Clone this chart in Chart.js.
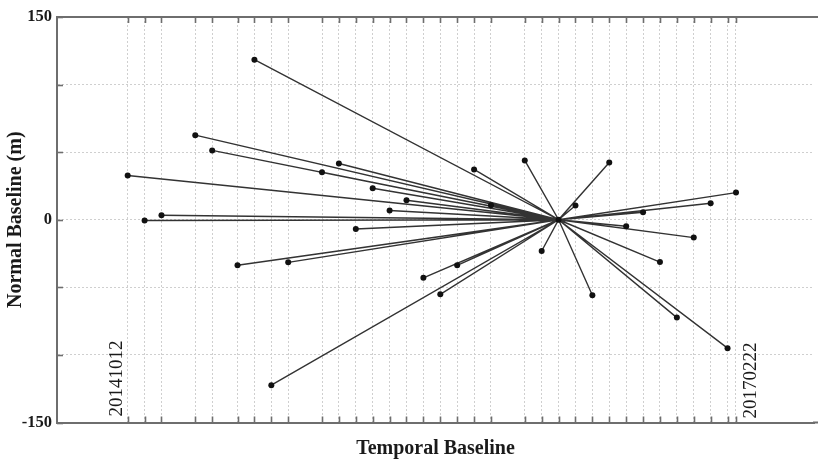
<!DOCTYPE html>
<html>
<head>
<meta charset="utf-8">
<script src="https://cdn.jsdelivr.net/npm/chart.js@4/dist/chart.umd.min.js"></script>
<style>
html,body{margin:0;padding:0;background:#fff;}
#wrap{width:818px;height:460px;}
</style>
</head>
<body>
<div id="wrap"><canvas id="c" width="818" height="460"></canvas></div>
<script>
// Acquisition dates as days since 20141012 (temporal baseline axis)
const acquisitionDays = [0,24,48,96,120,156,180,204,228,276,300,324,348,372,396,420,444,468,492,516,564,588,612,636,660,684,708,732,756,780,804,828,852,864];
// Normal baseline (m) of each acquisition relative to the master
const normalBaselines = [32.7,-0.6,3.3,62.6,51.3,-33.7,118.4,-122.4,-31.5,35.2,41.6,-6.8,23.3,6.8,14.4,-43,-55.2,-33.7,37.2,10.7,43.9,-23.1,0,10.5,-55.9,42.4,-4.8,5.6,-31.3,-72.4,-13.2,12.2,-95,20.1];
const masterIndex = 22;
const firstDateLabel = "20141012";
const lastDateLabel = "20170222";
const yTickLabels = [150, 0, -150];

const master = {x: acquisitionDays[masterIndex], y: normalBaselines[masterIndex]};
const linkData = [];
const pointData = [];
acquisitionDays.forEach((d, i) => {
  pointData.push({x: d, y: normalBaselines[i]});
  if (i !== masterIndex) {
    linkData.push({x: master.x, y: master.y});
    linkData.push({x: d, y: normalBaselines[i]});
  }
});

const SERIF = '"Liberation Serif", "Times New Roman", serif';
const FRAME = '#6e6e6e';
const GRID = '#cfcfcf';

const framePlugin = {
  id: 'framePlugin',
  afterDraw(chart) {
    const ctx = chart.ctx;
    const a = chart.chartArea;
    const xs = chart.scales.x, ys = chart.scales.y;
    ctx.save();
    ctx.strokeStyle = FRAME;
    ctx.lineWidth = 2;
    ctx.beginPath();
    ctx.moveTo(a.left - 1, a.top);
    ctx.lineTo(chart.width, a.top);
    ctx.moveTo(a.right - 1, a.bottom);
    ctx.lineTo(chart.width, a.bottom);
    ctx.stroke();
    ctx.lineWidth = 1.6;
    acquisitionDays.forEach(d => {
      const px = Math.round(xs.getPixelForValue(d)) + 0.5;
      ctx.beginPath();
      ctx.moveTo(px, a.top); ctx.lineTo(px, a.top + 6);
      ctx.moveTo(px, a.bottom); ctx.lineTo(px, a.bottom - 6);
      ctx.stroke();
    });
    ys.ticks.forEach(t => {
      const py = Math.round(ys.getPixelForValue(t.value)) + 0.5;
      ctx.beginPath();
      ctx.moveTo(a.left, py); ctx.lineTo(a.left + 6, py);
      ctx.stroke();
    });
    ctx.fillStyle = '#1a1a1a';
    ctx.font = '19px ' + SERIF;
    ctx.textBaseline = 'middle';
    ctx.textAlign = 'left';
    const x0 = xs.getPixelForValue(acquisitionDays[0]) - 11;
    ctx.save();
    ctx.translate(x0, a.bottom - 6);
    ctx.rotate(-Math.PI / 2);
    ctx.fillText(firstDateLabel, 0, 0);
    ctx.restore();
    const x1 = xs.getPixelForValue(acquisitionDays[acquisitionDays.length - 1]) + 15;
    ctx.save();
    ctx.translate(x1, a.bottom - 4);
    ctx.rotate(-Math.PI / 2);
    ctx.fillText(lastDateLabel, 0, 0);
    ctx.restore();
    ctx.restore();
  }
};

new Chart(document.getElementById('c'), {
  type: 'scatter',
  data: {
    datasets: [
      {
        data: linkData,
        showLine: true,
        borderColor: '#333',
        borderWidth: 1.4,
        pointRadius: 0,
        pointHoverRadius: 0,
        order: 2
      },
      {
        data: pointData,
        showLine: false,
        pointRadius: 3,
        pointBackgroundColor: '#111',
        pointBorderWidth: 0,
        order: 1
      }
    ]
  },
  options: {
    responsive: false,
    animation: false,
    events: [],
    layout: {padding: {top: 17, right: 0, left: 0, bottom: 0}},
    plugins: {legend: {display: false}, tooltip: {enabled: false}},
    scales: {
      x: {
        type: 'linear',
        min: -100.4,
        max: 974.8,
        afterBuildTicks(scale) {
          scale.ticks = acquisitionDays.map(v => ({value: v}));
        },
        afterFit(scale) { scale.height = 37.5; },
        ticks: {display: false},
        grid: {color: GRID, lineWidth: 1, drawTicks: false},
        border: {display: true, color: FRAME, width: 2, dash: [2, 2]},
        title: {
          display: true,
          text: 'Temporal Baseline',
          color: '#1a1a1a',
          font: {family: SERIF, size: 20, weight: 'bold', lineHeight: 1.1},
          padding: 0
        }
      },
      y: {
        type: 'linear',
        min: -150,
        max: 150,
        ticks: {
          stepSize: 50,
          padding: 5,
          color: '#1a1a1a',
          font: {family: SERIF, size: 16.5, weight: 'bold'},
          callback: (v) => yTickLabels.includes(v) ? String(v) : ''
        },
        afterFit(scale) { scale.width = 57; },
        grid: {color: GRID, lineWidth: 1, drawTicks: false},
        border: {display: true, color: FRAME, width: 2, dash: [2, 2]},
        title: {
          display: true,
          text: 'Normal Baseline (m)',
          color: '#1a1a1a',
          font: {family: SERIF, size: 20, weight: 'bold', lineHeight: 1.2},
          padding: {top: 4, bottom: 0}
        }
      }
    }
  },
  plugins: [framePlugin]
});
</script>
</body>
</html>
